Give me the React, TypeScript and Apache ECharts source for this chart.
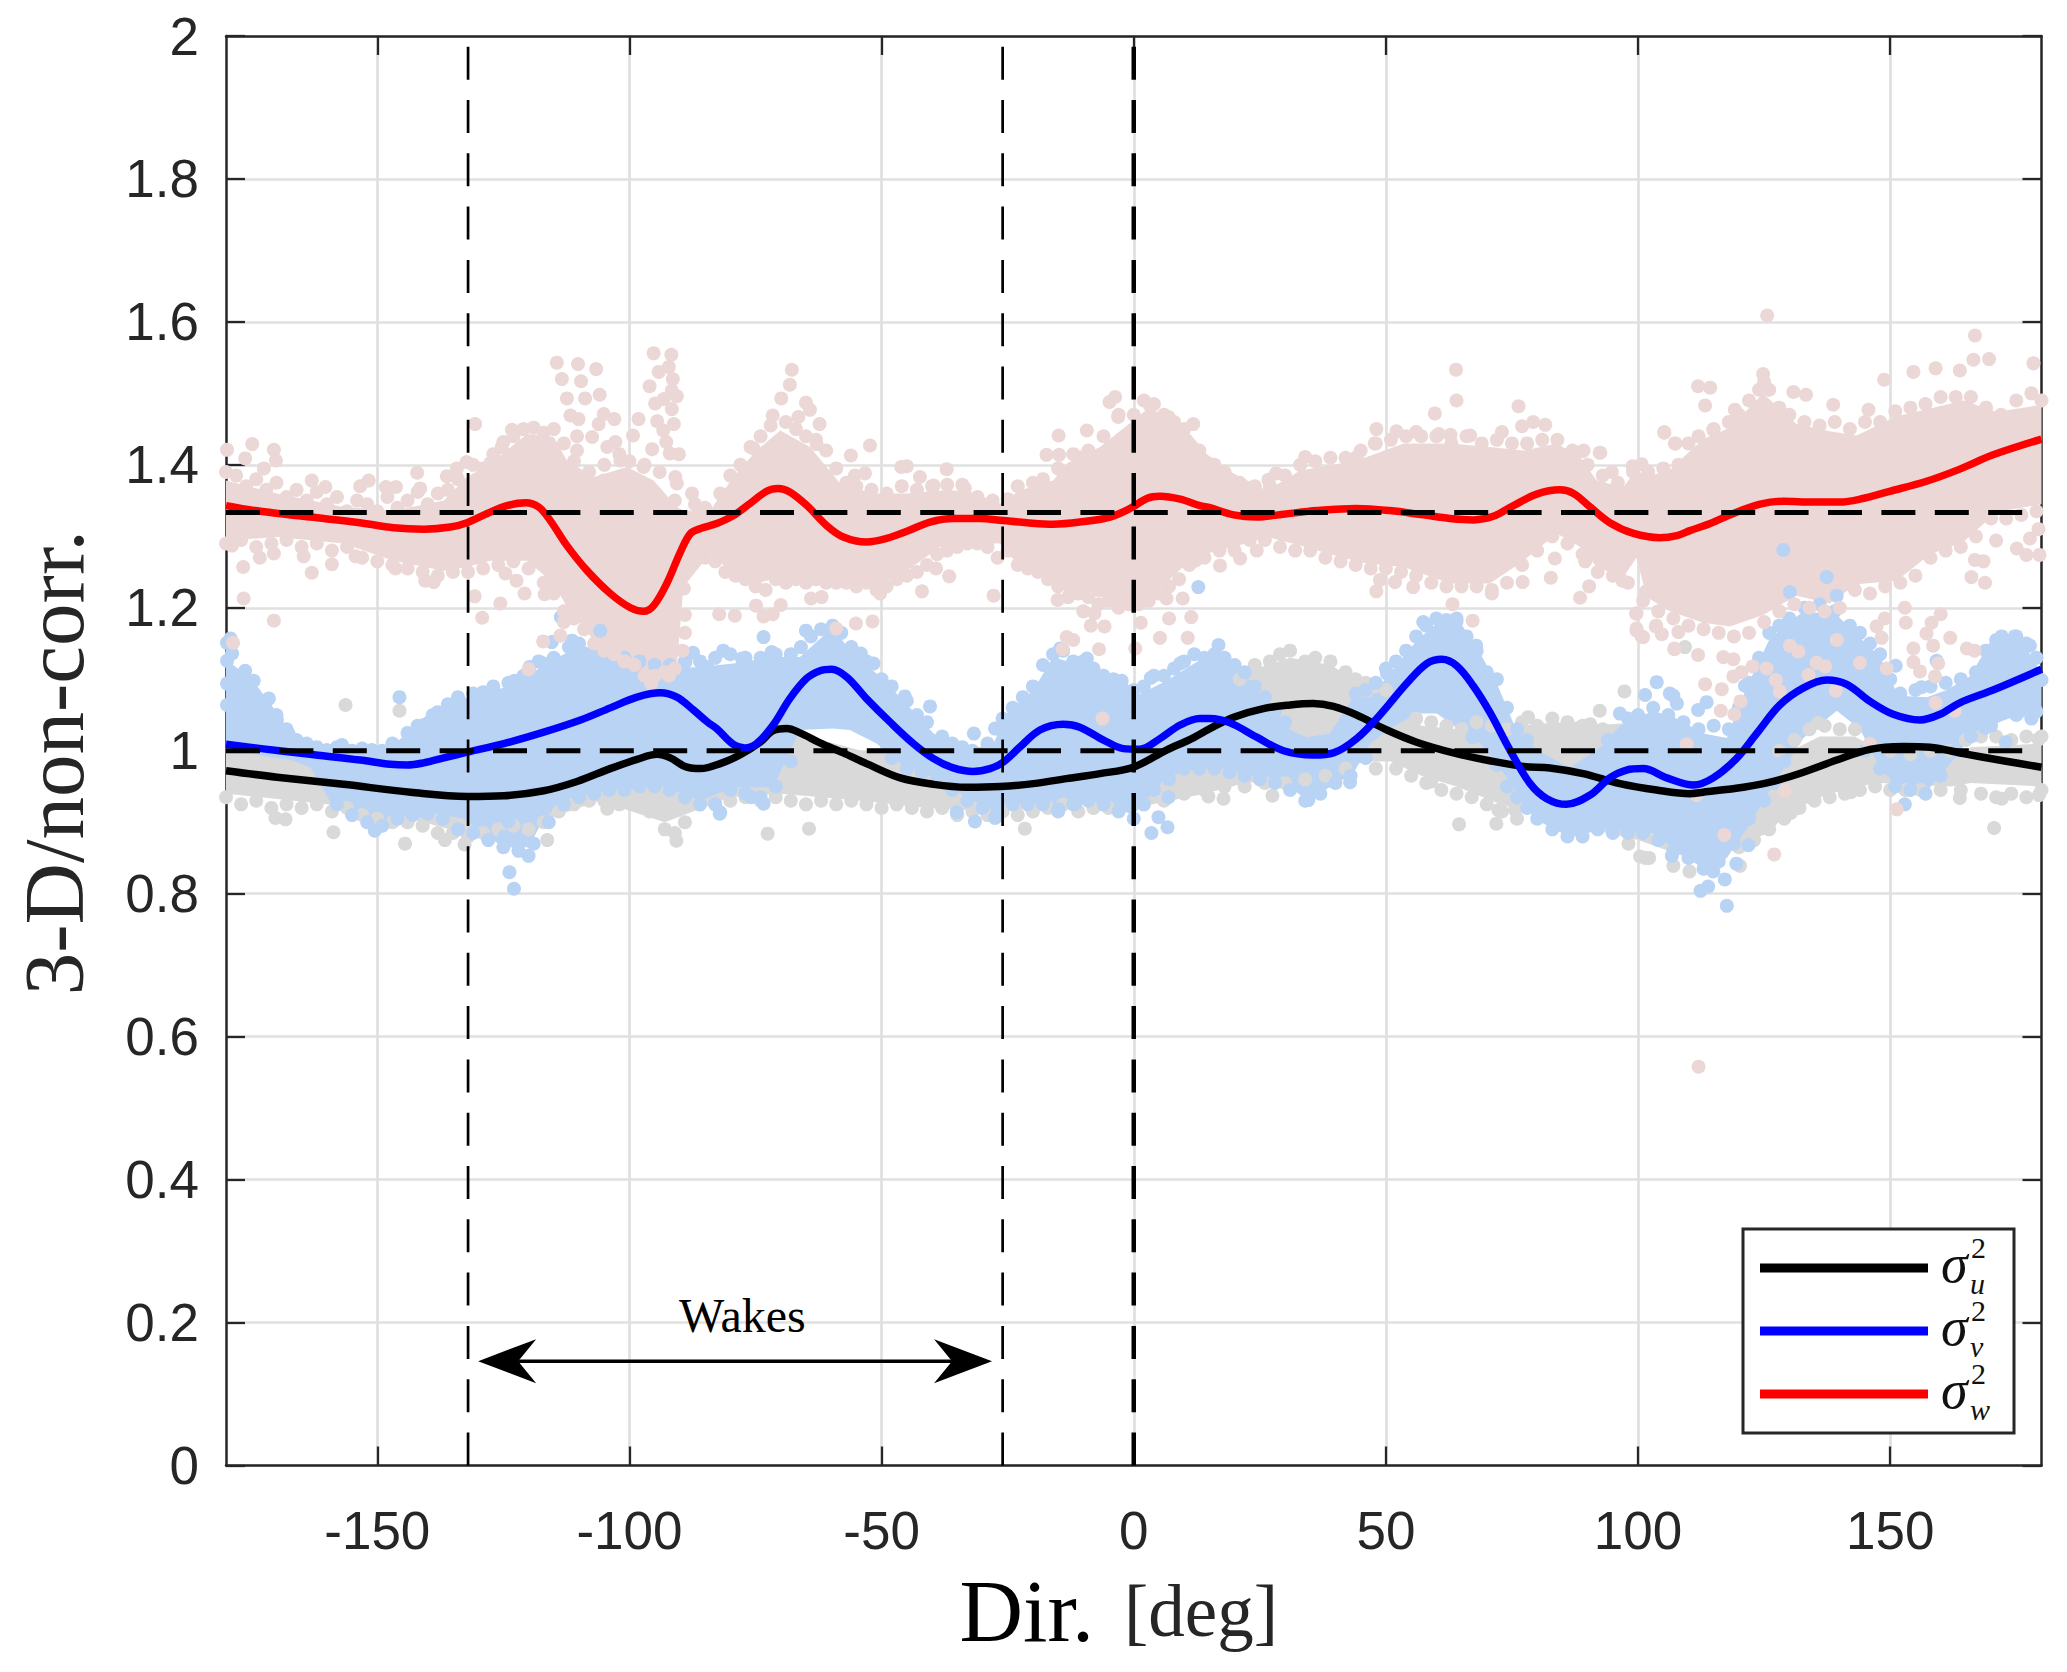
import React, { useEffect, useRef } from "react";
import * as echarts from "echarts";

const xTicks = [-150, -100, -50, 0, 50, 100, 150];
const wakeBounds = [-132, -26];
const refLevels = [1, 1.3333];
const wakesArrow = [[-130, 0.146, -28.1]];
const wakesLabel = [-77.6, 0.2105];

const redCurve = [[-180,1.343],[-173.2,1.335],[-163.3,1.327],[-153.4,1.319],[-146.8,1.312],[-140.8,1.310],[-135.5,1.313],[-132.2,1.319],[-128.2,1.332],[-124.3,1.343],[-120.6,1.347],[-118,1.341],[-115.7,1.322],[-112.4,1.287],[-108.4,1.252],[-103.8,1.220],[-99.8,1.200],[-97.2,1.195],[-95.2,1.203],[-92.6,1.234],[-89.9,1.278],[-87.9,1.304],[-85.9,1.311],[-82.7,1.318],[-79.4,1.329],[-76.1,1.346],[-72.8,1.363],[-70.5,1.367],[-68.2,1.362],[-64.8,1.343],[-60.9,1.315],[-57.6,1.299],[-53,1.292],[-49,1.297],[-45,1.307],[-40.4,1.320],[-35.8,1.325],[-30.5,1.325],[-25.9,1.322],[-21.2,1.319],[-16,1.317],[-10.7,1.320],[-4.7,1.327],[-0.7,1.339],[2.6,1.353],[5.2,1.356],[9.2,1.352],[13.1,1.343],[15.1,1.340],[19.8,1.330],[24.4,1.327],[29.7,1.331],[36.3,1.336],[44.2,1.339],[50.8,1.336],[57.4,1.330],[62.7,1.325],[67.3,1.323],[71.3,1.328],[75.3,1.343],[79.9,1.359],[84.5,1.365],[87.2,1.360],[90.5,1.341],[94.4,1.319],[99.1,1.304],[104.3,1.298],[107.7,1.301],[110.3,1.308],[114.3,1.318],[118.9,1.332],[124.2,1.345],[128.8,1.349],[134.7,1.348],[140,1.348],[144,1.352],[149.9,1.363],[157.2,1.377],[163.8,1.394],[170.4,1.414],[180,1.436]];

const blueCurve = [[-180,1.009],[-173,1.003],[-163.3,0.995],[-153.4,0.987],[-147.4,0.981],[-144.1,0.980],[-140.8,0.983],[-136.8,0.990],[-132.2,0.998],[-124.9,1.010],[-117,1.026],[-109.7,1.043],[-103.8,1.060],[-98.5,1.075],[-93.9,1.081],[-90.6,1.075],[-87.3,1.057],[-84.5,1.040],[-82.7,1.031],[-79.4,1.009],[-77.1,1.004],[-74.8,1.010],[-71.5,1.036],[-68.2,1.073],[-64.9,1.101],[-62.2,1.112],[-59.9,1.114],[-56.9,1.103],[-53,1.073],[-48.3,1.040],[-43.7,1.010],[-39.7,0.989],[-35.8,0.976],[-31.8,0.971],[-28.5,0.975],[-25.9,0.984],[-22.6,1.005],[-18.6,1.029],[-14,1.037],[-10.7,1.033],[-6,1.015],[-2.1,1.003],[1.2,1.002],[5.2,1.017],[9.2,1.036],[13.1,1.045],[15.1,1.045],[19.1,1.039],[24.4,1.019],[29.7,1.000],[35.6,0.994],[39.6,0.997],[44.2,1.017],[48.8,1.050],[54.1,1.094],[58.1,1.122],[61.1,1.128],[64,1.119],[67.3,1.091],[70.6,1.054],[74.6,1.001],[78.6,0.954],[81.9,0.933],[85.8,0.925],[90.5,0.938],[94.4,0.962],[97.7,0.973],[101,0.975],[105.7,0.962],[111,0.952],[114.9,0.962],[119.5,0.989],[123.5,1.024],[128.1,1.064],[132.8,1.088],[137.4,1.099],[141.4,1.093],[146,1.069],[150.6,1.051],[155.9,1.043],[159.9,1.051],[163.8,1.067],[170.4,1.085],[180,1.114]];

const blackCurve = [[-180,0.972],[-169.9,0.963],[-156.7,0.953],[-143.4,0.942],[-132.2,0.936],[-124.9,0.937],[-117,0.944],[-110.4,0.957],[-103.8,0.975],[-98.5,0.988],[-94.5,0.995],[-91.9,0.990],[-88.6,0.977],[-85.9,0.975],[-82,0.982],[-78.1,0.994],[-74.1,1.012],[-71.5,1.028],[-68.8,1.031],[-66.2,1.025],[-62.2,1.011],[-57.6,0.997],[-53,0.982],[-46.3,0.962],[-39.7,0.953],[-33.1,0.949],[-26.5,0.950],[-19.9,0.954],[-13.3,0.961],[-6.7,0.968],[-0.1,0.977],[6.5,1.001],[11.2,1.016],[15.1,1.031],[19.8,1.047],[25.7,1.059],[31,1.064],[35.6,1.066],[39.6,1.062],[44.2,1.050],[50.2,1.029],[56.1,1.012],[63.4,0.997],[70.6,0.986],[77.3,0.978],[82.5,0.976],[89.1,0.968],[96.4,0.954],[103.7,0.945],[110.3,0.940],[112.9,0.942],[120.9,0.949],[126.2,0.956],[132.8,0.970],[139.4,0.987],[146,1.002],[152.6,1.006],[157.9,1.005],[164.5,0.996],[172.4,0.986],[180,0.977]];

// cloud extents: [direction, upper, lower]
const pinkBand = [[-180,1.378,1.294],[-169.9,1.360,1.299],[-156.7,1.341,1.290],[-146.8,1.336,1.266],[-136.8,1.350,1.252],[-132.2,1.383,1.257],[-127.6,1.402,1.266],[-120.3,1.443,1.266],[-115,1.439,1.234],[-112.4,1.406,1.201],[-107,1.383,1.154],[-100.5,1.397,1.122],[-95.2,1.378,1.108],[-90.6,1.341,1.117],[-89.3,1.336,1.229],[-84,1.336,1.276],[-79.4,1.383,1.248],[-74.8,1.420,1.234],[-70.1,1.448,1.243],[-64.2,1.425,1.243],[-58.2,1.374,1.238],[-51.6,1.360,1.229],[-45,1.360,1.252],[-38.4,1.364,1.285],[-33.1,1.364,1.290],[-26.5,1.346,1.290],[-22.6,1.364,1.257],[-16,1.378,1.243],[-13.3,1.402,1.220],[-6.7,1.425,1.215],[-0.1,1.462,1.210],[3.2,1.481,1.215],[11.2,1.443,1.266],[14.5,1.415,1.276],[19.8,1.388,1.285],[26.4,1.364,1.299],[33,1.392,1.287],[40.9,1.402,1.271],[46.2,1.411,1.262],[53.5,1.430,1.257],[62.7,1.430,1.234],[70.6,1.425,1.234],[77.3,1.420,1.266],[83.9,1.430,1.304],[88.5,1.411,1.285],[91.8,1.378,1.257],[97.1,1.369,1.243],[99.7,1.393,1.270],[101.7,1.383,1.215],[106.3,1.393,1.195],[112.9,1.436,1.179],[118.2,1.452,1.174],[124.8,1.500,1.190],[131.4,1.457,1.217],[138,1.447,1.206],[143.3,1.441,1.233],[151.3,1.468,1.238],[157.9,1.479,1.275],[164.5,1.490,1.292],[171.1,1.474,1.334],[180,1.484,1.345]];

const blueBand = [[-180,1.127,0.996],[-175.2,1.103,0.996],[-171.2,1.066,0.991],[-167.2,1.024,0.987],[-163.3,1.005,0.977],[-159,1.001,0.925],[-151,0.996,0.900],[-146,1.013,0.905],[-140,1.051,0.915],[-133,1.072,0.905],[-125,1.088,0.865],[-120,1.105,0.865],[-117,1.120,0.905],[-113,1.135,0.930],[-109,1.147,0.935],[-104,1.131,0.945],[-93,1.115,0.950],[-86,1.117,0.930],[-79.4,1.122,0.949],[-71.5,1.131,0.949],[-66.2,1.131,1.029],[-59.6,1.173,1.031],[-56.3,1.140,1.029],[-51,1.108,1.010],[-46.3,1.075,0.982],[-39.7,1.024,0.963],[-33.1,1.001,0.935],[-27.8,1.010,0.917],[-25.2,1.052,0.926],[-19.9,1.085,0.926],[-16,1.131,0.917],[-9.3,1.117,0.931],[-4,1.094,0.921],[-0.1,1.075,0.910],[6.5,1.098,0.963],[13.1,1.127,0.977],[17.8,1.127,0.975],[22.4,1.103,0.968],[27,1.066,0.959],[31,1.029,0.949],[34.3,1.019,0.931],[38.9,1.024,0.949],[43.5,1.075,0.968],[46.9,1.075,1.010],[50.8,1.108,1.031],[56.1,1.154,1.052],[60.1,1.178,1.052],[64.7,1.180,1.029],[68.7,1.136,1.010],[72,1.094,0.982],[75.3,1.038,0.949],[79.9,1.001,0.903],[86.5,0.976,0.879],[93.1,1.008,0.890],[96.4,1.035,0.888],[103,1.056,0.885],[107.6,1.045,0.860],[113,1.024,0.835],[117.6,1.018,0.850],[121.5,1.088,0.890],[126.2,1.158,0.945],[132.8,1.195,1.018],[139.4,1.190,1.056],[144,1.158,1.030],[148,1.131,0.976],[151.6,1.077,0.949],[157.3,1.075,0.944],[161.2,1.085,0.976],[165.8,1.104,1.018],[169.8,1.152,1.035],[175.7,1.158,1.051],[180,1.109,1.056]];

const grayBand = [[-180,1.0,0.94],[-160,0.99,0.925],[-146,0.98,0.91],[-133,0.97,0.885],[-120,0.97,0.895],[-106,0.98,0.93],[-93,1.02,0.90],[-80,1.02,0.935],[-70,1.03,0.94],[-54,1.0,0.93],[-41,1.0,0.92],[-28,0.98,0.915],[-12,1.0,0.925],[0,1.0,0.92],[14,1.02,0.94],[22,1.11,0.955],[31,1.13,0.96],[39,1.12,0.97],[46,1.09,0.985],[51,1.08,0.985],[57,1.035,0.965],[64,1.03,0.95],[71,1.03,0.93],[77,1.035,0.915],[84,1.04,0.90],[90.5,1.035,0.89],[100,1.04,0.875],[110,1.0,0.85],[120,0.98,0.87],[126,0.98,0.885],[129,0.995,0.91],[136,1.02,0.935],[143,1.02,0.95],[148,1.0,0.955],[162,0.99,0.95],[166,1.005,0.955],[180,1.01,0.95]];

const pinkOutliers = [[-174.8,1.429],[-179.8,1.421],[-170.5,1.421],[-170.1,1.406],[-176.2,1.409],[-172.5,1.395],[-142.1,1.389],[-151.7,1.378],[-153.4,1.370],[-148.3,1.369],[-146.3,1.369],[-163,1.378],[-160.3,1.369],[-141.5,1.367],[-136.2,1.384],[-132.3,1.404],[-134.2,1.395],[-130.6,1.457],[-123.3,1.449],[-125.3,1.425],[-127.6,1.402],[-114.4,1.543],[-110.2,1.541],[-106.6,1.534],[-113.4,1.520],[-109.6,1.517],[-112.4,1.493],[-108.8,1.493],[-105.9,1.498],[-111.7,1.469],[-110.1,1.464],[-105.1,1.471],[-103,1.464],[-106.1,1.457],[-110.4,1.440],[-107.4,1.439],[-102.8,1.432],[-104.4,1.425],[-110.4,1.420],[-95.5,1.422],[-98.2,1.464],[-99.3,1.441],[-95.2,1.556],[-91.7,1.554],[-92.2,1.537],[-94.2,1.530],[-91.4,1.520],[-96,1.510],[-91.6,1.504],[-90.6,1.496],[-93.2,1.492],[-94.9,1.486],[-91.6,1.478],[-94.5,1.461],[-91.2,1.457],[-93.3,1.448],[-92.7,1.432],[-92,1.416],[-90.2,1.415],[-90.9,1.383],[-90.6,1.374],[-87.6,1.360],[-101.8,1.406],[-97.2,1.397],[-102.8,1.364],[-105.1,1.378],[-176.6,1.257],[-176.5,1.213],[-170.5,1.182],[-163,1.249],[-173.3,1.270],[-170.5,1.276],[-159,1.261],[-164.6,1.272],[-178.8,1.287],[-154.3,1.272],[-146.4,1.255],[-140.5,1.238],[-138.8,1.236],[-130.7,1.216],[-129.2,1.186],[-125.6,1.206],[-124.6,1.248],[-122.4,1.238],[-120.8,1.220],[-116.8,1.219],[-115.7,1.231],[-117.1,1.153],[-113.7,1.161],[-113,1.180],[-120,1.114],[-95.7,1.094],[-92.2,1.105],[-89.2,1.227],[-88.6,1.257],[-178.6,1.151],
[-67.8,1.533],[-68.2,1.512],[-69.9,1.493],[-65,1.487],[-64.2,1.477],[-71.6,1.469],[-66.5,1.467],[-62.3,1.457],[-75.4,1.423],[-62.9,1.429],[-52.3,1.427],[-56.1,1.413],[-46.1,1.397],[-45,1.398],[-37.1,1.394],[-42.4,1.383],[-55.3,1.385],[-53.3,1.388],[-39.7,1.371],[-33.5,1.367],[-14.9,1.441],[-17.3,1.414],[-14.8,1.414],[-11,1.411],[-9.3,1.448],[-3.7,1.495],[-4.8,1.488],[-3.1,1.467],[3.2,1.483],[6.9,1.467],[11.8,1.457],[-82.2,1.191],[-79.1,1.189],[-74.9,1.203],[-73.4,1.188],[-71.6,1.191],[-70,1.204],[-64,1.213],[-61.9,1.215],[-55.1,1.178],[-51.8,1.181],[-59,1.171],[-50.3,1.220],[-42,1.223],[-36.6,1.244],[-39.2,1.255],[-27.8,1.217],[-15.1,1.211],[-10,1.195],[-7.8,1.192],[-8.5,1.175],[-5.8,1.174],[-13.3,1.159],[-12,1.155],[-14.1,1.142],[-6.9,1.142],[-6.2,1.045],[1.4,1.179],[7,1.185],[11.4,1.187],[5.2,1.158],[10.7,1.158],[0.3,1.143],[9.7,1.213],[6.5,1.213],[-2.4,1.208],
[63.9,1.533],[64,1.490],[59.7,1.472],[76.3,1.482],[48.1,1.450],[52.1,1.447],[56,1.446],[60.5,1.443],[62.8,1.442],[66.7,1.441],[73,1.446],[77,1.454],[79.2,1.460],[81.6,1.456],[34,1.411],[28.2,1.388],[26.7,1.379],[44.2,1.411],[47.8,1.430],[92.5,1.417],[89.2,1.420],[105.2,1.445],[107.4,1.430],[99.1,1.397],[94.8,1.390],[24.4,1.280],[21.1,1.269],[17.1,1.259],[12.2,1.266],[48.1,1.223],[48.8,1.239],[51.8,1.236],[55.4,1.229],[63.2,1.205],[67.2,1.182],[71,1.220],[77.1,1.236],[82.7,1.242],[83.5,1.269],[88.5,1.214],[90.3,1.230],[96.9,1.238],[99.7,1.192],[99.7,1.168],[103.6,1.175],[101,1.159],[104.7,1.163],[107.2,1.142],[108,1.166],
[166.8,1.581],[166.5,1.547],[169.6,1.548],[178.4,1.542],[159,1.535],[163.8,1.532],[154.6,1.530],[148.8,1.519],[124.8,1.527],[125,1.516],[111.9,1.510],[114.3,1.508],[130.8,1.502],[133.3,1.498],[113.3,1.483],[138.7,1.484],[119.2,1.477],[145.7,1.477],[105.2,1.446],[107.3,1.430],[114.9,1.449],[92.4,1.417],[89,1.419],[98.9,1.398],[100.7,1.401],[89.5,1.265],[101.6,1.223],[99.6,1.192],[99.7,1.171],[100.7,1.160],[103.5,1.174],[107.2,1.143],[111.9,1.134],[116.9,1.131],[118.9,1.128],[122.7,1.118],[118.9,1.104],[120.5,1.110],[113.3,1.093],[116.6,1.086],[116.4,1.056],[119.1,1.051],[120.3,1.069],[125.5,1.115],[127.3,1.099],[128.1,1.083],[130.1,1.147],[131.8,1.139],[139.4,1.155],[135.4,1.123],[137.1,1.118],[133.8,1.106],[144,1.123],[149.3,1.115],[139.2,1.084],[154.6,1.143],[154.6,1.124],[155.9,1.111],[157.2,1.164],[158.5,1.147],[159.5,1.122],[158.9,1.104],[159,1.067],[161.9,1.158],[165.2,1.143],[166.7,1.140],[160,1.191],[158.2,1.179],[153.1,1.179],[152.9,1.200],[148.9,1.185],[147.3,1.174],[148.3,1.158],[168.8,1.235],[166.1,1.243],[166.8,1.267],[168.5,1.265],[171,1.294],[175.1,1.283],[177,1.274],[179.6,1.274],[177.7,1.297],[179.4,1.310],[109.6,1.009],[117.1,0.882],[127,0.855],[129.1,0.944],[151.3,0.918],[162.8,1.056],[146,1.008],[111.6,0.938],[125.6,1.609],[112,0.558]];

const pinkTopEdge = [[-180,1.39],[-178,1.385],[-176,1.37],[-174,1.38],[-172,1.365],[-170,1.375],[-168,1.355],[-166,1.365],[-164,1.35],[-162,1.362],[-160,1.345],[-158,1.355],[-156,1.335],[-154,1.35],[-152,1.345],[-150,1.335],[-148,1.355],[-146,1.34],[-144,1.35],[-142,1.362],[-140,1.345],[-138,1.36],[-136,1.365],[-134,1.38],[-131,1.40],[-129,1.395],[-127,1.415],[-125,1.432],[-123,1.44],[-121,1.45],[-119,1.452],[-117,1.445],[-115,1.45],[-113,1.43],[-111,1.405],[-108,1.39],[-105,1.40],[-102,1.415],[-100,1.405],[-97,1.40],[-94,1.39],[-91,1.35],[-87,1.345],[-85,1.34],[-82,1.36],[-80,1.385],[-78,1.40],[-76,1.425],[-74,1.44],[-72,1.455],[-69,1.46],[-67,1.45],[-65,1.44],[-63,1.435],[-61,1.42],[-59,1.395],[-57,1.375],[-55,1.37],[-52,1.365],[-49,1.36],[-46,1.37],[-43,1.365],[-40,1.37],[-37,1.372],[-34,1.372],[-31,1.355],[-28,1.35],[-25,1.352],[-23,1.37],[-20,1.375],[-18,1.38],[-15,1.395],[-12,1.415],[-9,1.42],[-6,1.44],[-3,1.47],[0,1.47],[2,1.49],[4,1.485],[6,1.47],[8,1.46],[10,1.45],[13,1.42],[16,1.40],[18,1.39],[21,1.375],[24,1.37],[27,1.37],[30,1.385],[33,1.40],[36,1.405],[39,1.41],[42,1.41],[45,1.42],[48,1.43],[51,1.435],[54,1.44],[57,1.44],[60,1.44],[63,1.43],[66,1.44],[69,1.43],[72,1.435],[75,1.43],[78,1.43],[81,1.435],[84,1.435],[87,1.42],[90,1.40],[93,1.385],[96,1.375],[99,1.39],[102,1.39],[105,1.395],[108,1.40],[110,1.43],[112,1.44],[115,1.45],[118,1.46],[120,1.47],[122,1.49],[124,1.505],[126,1.505],[128,1.48],[130,1.47],[133,1.46],[136,1.455],[139,1.46],[142,1.45],[145,1.46],[148,1.46],[151,1.475],[154,1.48],[157,1.485],[160,1.495],[163,1.495],[166,1.495],[169,1.48],[172,1.47],[175,1.49],[178,1.50],[180,1.49]];

const pinkBottomEdge = [[-180,1.29],[-177,1.295],[-174,1.285],[-171,1.29],[-168,1.295],[-165,1.285],[-162,1.29],[-159,1.28],[-156,1.285],[-153,1.27],[-150,1.265],[-147,1.26],[-144,1.255],[-141,1.25],[-138,1.245],[-135,1.25],[-132,1.25],[-129,1.255],[-126,1.26],[-123,1.265],[-120,1.255],[-117,1.235],[-115,1.22],[-113,1.195],[-111,1.185],[-109,1.17],[-107,1.15],[-105,1.14],[-103,1.135],[-101,1.125],[-99,1.12],[-97,1.105],[-95,1.105],[-93,1.11],[-91,1.115],[-89.5,1.14],[-89,1.165],[-89,1.19],[-87,1.265],[-85,1.27],[-83,1.265],[-81,1.25],[-79,1.245],[-77,1.24],[-75,1.23],[-73,1.225],[-71,1.24],[-69,1.235],[-67,1.24],[-65,1.235],[-63,1.24],[-61,1.235],[-59,1.235],[-57,1.235],[-55,1.23],[-53,1.235],[-51,1.225],[-49,1.23],[-47,1.24],[-45,1.245],[-43,1.25],[-41,1.26],[-39,1.275],[-37,1.28],[-35,1.285],[-33,1.29],[-31,1.29],[-29,1.285],[-27,1.27],[-25,1.28],[-23,1.26],[-21,1.255],[-19,1.25],[-17,1.24],[-15,1.23],[-13,1.215],[-11,1.22],[-9,1.215],[-7,1.205],[-5,1.21],[-3,1.20],[-1,1.205],[1,1.205],[3,1.21],[5,1.22],[7,1.23],[9,1.24],[11,1.26],[14,1.27],[17,1.28],[20,1.28],[23,1.295],[26,1.295],[29,1.285],[32,1.28],[35,1.28],[38,1.27],[41,1.265],[44,1.26],[47,1.255],[50,1.255],[53,1.25],[56,1.245],[59,1.235],[62,1.23],[65,1.23],[68,1.23],[71,1.225],[74,1.235],[77,1.26],[80,1.28],[83,1.30],[86,1.29],[89,1.275],[92,1.25],[95,1.245],[98,1.235],[101,1.21],[104,1.195],[107,1.185],[110,1.175],[113,1.17],[116,1.165],[119,1.16],[122,1.165],[125,1.18],[128,1.195],[131,1.205],[134,1.20],[137,1.195],[140,1.20],[143,1.225],[146,1.22],[149,1.23],[152,1.235],[155,1.245],[158,1.27],[161,1.28],[164,1.285],[167,1.30],[170,1.325],[173,1.325],[176,1.33],[179,1.335]];

const blueOutliers = [[-179.1,1.157],[-179.8,1.151],[-178.8,1.136],[-179.8,1.126],[-179.8,1.094],[-179.8,1.064],[-178.5,1.054],[-176.2,1.112],[-174.5,1.098],[-176.8,1.075],[-176.5,1.047],[-174.8,1.029],[-171.5,1.073],[-173.2,1.047],[-169.9,1.043],[-167.6,1.024],[-178.5,1.017],[-165.8,1.011],[-160,1.001],[-157,1.008],[-151.1,1.001],[-146.3,1.006],[-145.6,1.075],[-142.5,1.022],[-140.8,1.036],[-138,1.054],[-133.2,1.066],[-127.7,1.075],[-122.8,1.098],[-119.8,1.117],[-117,1.122],[-115.4,1.152],[-111.4,1.154],[-113.6,1.187],[-109.7,1.119],[-104.4,1.129],[-87.4,1.137],[-88.9,1.124],[-84.6,1.117],[-105.8,1.168],
[-73.4,1.159],[-65,1.168],[-59.7,1.175],[-81.4,1.140],[-77.7,1.129],[-71.8,1.138],[-54.1,1.136],[-51.6,1.122],[-45.4,1.076],[-40.4,1.062],[-31.7,1.024],[-27.5,1.031],[-14.6,1.143],[-9.3,1.129],[-2.4,1.098],[3.4,1.102],[12.8,1.229],[9.2,1.122],[-82,0.914],[-73.4,0.926],[-75.8,0.935],[-35.1,0.914],[-22,0.935],[-14.9,0.918],[-11.6,0.926],[-12.3,0.945],[4.9,0.907],[6.9,0.935],
[-122.9,0.807],[-123.8,0.830],[-120,0.853],[-124,0.901],[-124.8,0.88],[-141.4,0.917],[-150.5,0.888],[-82.1,0.912],[-31.5,0.901],[-27.5,0.906],[-15,0.917],[3.5,0.885],[6.7,0.893],
[16.8,1.148],[57.4,1.180],[64,1.181],[67.9,1.147],[50.2,1.108],[103.7,1.096],[101.4,1.078],[96.4,1.052],[106.3,1.080],[107.7,1.066],[42.9,0.956],[34.6,0.931],[67.2,1.019],
[107,1.077],[111.9,1.057],[113.6,1.068],[121.2,1.091],[117.6,0.783],[112.4,0.804],[119.5,0.842],[121.9,0.868],[106.7,0.853],[152.9,0.925],[151.1,1.119],[156.2,1.089],[159.2,1.126],[172.1,1.160],[174.7,1.160],[177.7,1.147],[180,1.099],[178,1.045],[172.8,1.069],[175.7,1.055],[168.8,1.032],[172.9,1.012],[130.1,1.222],[139.4,1.217],[137.4,1.243],[128.8,1.281],[114.9,0.831],[117.2,0.820],[113.9,0.810]];

const blueTopEdge = [[-170,1.05],[-168,1.03],[-166,1.015],[-164,1.01],[-162,1.005],[-158,1.005],[-155,1.0],[-153,1.003],[-149,1.0],[-147,1.01],[-144,1.025],[-142,1.035],[-139,1.05],[-136,1.065],[-134,1.075],[-131,1.08],[-129,1.082],[-127,1.09],[-124,1.095],[-121,1.105],[-118,1.125],[-115,1.13],[-112,1.145],[-110,1.15],[-107,1.14],[-104,1.135],[-101,1.13],[-98,1.125],[-95,1.12],[-92,1.12],[-89,1.125],[-86,1.125],[-83,1.13],[-80,1.135],[-77,1.13],[-74,1.13],[-71,1.135],[-68,1.135],[-66,1.145],[-64,1.16],[-62,1.17],[-60,1.17],[-58,1.165],[-56,1.145],[-53,1.125],[-50,1.10],[-48,1.09],[-45,1.07],[-43,1.05],[-41,1.04],[-38,1.02],[-36,1.01],[-34,1.005],[-32,1.0],[-29,1.01],[-26,1.045],[-24,1.06],[-22,1.075],[-20,1.09],[-18,1.12],[-16,1.135],[-14,1.14],[-12,1.125],[-10,1.125],[-8,1.115],[-6,1.105],[-4,1.10],[-2,1.085],[0,1.085],[2,1.09],[4,1.105],[6,1.105],[8,1.115],[10,1.125],[12,1.135],[14,1.13],[16,1.135],[18,1.13],[20,1.12],[22,1.11],[24,1.09],[26,1.075],[28,1.055],[30,1.04],[44,1.08],[46,1.085],[48,1.095],[50,1.115],[52,1.125],[54,1.14],[56,1.16],[58,1.175],[60,1.185],[62,1.183],[64,1.185],[66,1.16],[68,1.14],[70,1.11],[72,1.10],[74,1.06],[76,1.03],[78,1.015],[94,1.015],[98,1.045],[100,1.05],[103,1.06],[106,1.05],[109,1.04],[112,1.03],[115,1.035],[118,1.03],[120,1.06],[122,1.095],[124,1.13],[126,1.165],[128,1.175],[130,1.185],[133,1.20],[136,1.205],[139,1.195],[142,1.175],[144,1.165],[146,1.15],[148,1.135],[150,1.10],[152,1.08],[155,1.085],[158,1.09],[161,1.095],[164,1.10],[167,1.11],[169,1.14],[171,1.155],[173,1.15],[175,1.16],[177,1.15],[179,1.13]];

const blueBottomEdge = [[-158,0.925],[-155,0.91],[-152,0.90],[-149,0.895],[-146,0.905],[-143,0.91],[-140,0.912],[-137,0.905],[-134,0.89],[-131,0.885],[-128,0.875],[-125,0.865],[-122,0.86],[-119,0.87],[-116,0.90],[-113,0.925],[-110,0.935],[-107,0.94],[-104,0.945],[-101,0.945],[-98,0.95],[-95,0.95],[-92,0.945],[-89,0.935],[-86,0.925],[-83,0.925],[-80,0.945],[-77,0.94],[-74,0.935],[-71,0.95],[-68,0.985],[-48,0.99],[-45,0.975],[-42,0.97],[-39,0.96],[-36,0.945],[-33,0.93],[-30,0.92],[-27,0.915],[-24,0.925],[-21,0.925],[-18,0.925],[-15,0.915],[-12,0.925],[-9,0.93],[-6,0.925],[-3,0.915],[0,0.905],[2,0.925],[4,0.945],[7,0.96],[10,0.975],[13,0.975],[16,0.975],[19,0.97],[22,0.965],[25,0.96],[28,0.955],[31,0.945],[34,0.93],[37,0.94],[40,0.955],[43,0.965],[46,0.99],[72,0.98],[74,0.95],[76,0.935],[78,0.92],[80,0.905],[83,0.89],[86,0.88],[89,0.88],[92,0.89],[95,0.885],[98,0.885],[101,0.885],[104,0.875],[107,0.86],[110,0.85],[113,0.835],[116,0.845],[119,0.87],[122,0.905],[125,0.93],[127,0.955],[129,0.985],[145,1.0],[148,0.975],[151,0.95],[154,0.945],[157,0.94],[160,0.965],[163,1.0],[166,1.02],[170,1.035],[175,1.05],[179,1.055]];

const grayOutliers = [[-156.3,1.064],[-145.6,1.056],[-104.4,0.919],[-170.2,0.906],[-168.2,0.904],[-158.7,0.886],[-144.5,0.870],[-136.6,0.875],[-132.7,0.869],[-116.3,0.875],[-90.7,0.874],[-72.6,0.884],[-64.4,0.891],[-21.6,0.891],[97.3,1.083],[92.4,1.056],[109.3,1.145],[98.1,0.870],[100.4,0.852],[102.2,0.850],[107,0.839],[110.2,0.831],[120.2,0.839],[130.3,0.913],[142.2,0.942],[163.8,0.934],[170.6,0.892],[179.5,0.938],[172.1,0.933],[179.4,1.016],[135.7,1.039],[90.5,1.037],[14.8,0.936],[17.8,0.933],[27.5,0.937],[59,0.957],[64.5,0.897],[71.9,0.898],[101.5,0.850],[78.2,1.047],[87.8,1.031],[72.3,0.917],[75.6,0.917]];

const grayTopEdge = [[21,1.10],[24,1.12],[27,1.125],[29,1.135],[31,1.14],[34,1.125],[36,1.13],[39,1.125],[42,1.11],[44,1.10],[46,1.095],[48,1.09],[50,1.085],[56,1.045],[59,1.04],[62,1.035],[65,1.03],[68,1.04],[71,1.035],[74,1.03],[77,1.04],[80,1.035],[83,1.045],[86,1.04],[89,1.035],[91,1.03],[93,1.03],[128,1.0],[131,1.015],[134,1.03],[137,1.035],[140,1.03],[143,1.03],[146,1.01],[150,1.0],[154,0.995],[158,1.0],[162,1.0],[165,1.015],[168,1.02],[171,1.02],[174,1.015],[177,1.02],[180,1.02]];

const grayBottomEdge = [[-180,0.935],[-177,0.925],[-174,0.93],[-171,0.92],[-168,0.925],[-165,0.92],[-162,0.925],[-159,0.915],[-156,0.92],[-153,0.91],[-150,0.905],[-147,0.90],[-144,0.90],[-141,0.895],[-138,0.885],[-135,0.885],[-132,0.88],[-129,0.885],[-126,0.89],[-123,0.895],[-120,0.89],[-117,0.90],[-114,0.915],[-111,0.925],[-108,0.93],[-105,0.93],[-102,0.925],[-99,0.925],[-96,0.915],[-93,0.89],[-91,0.885],[-89,0.90],[-86,0.925],[-83,0.925],[-80,0.93],[-77,0.935],[-74,0.93],[-71,0.935],[-68,0.93],[-65,0.925],[-62,0.93],[-59,0.925],[-56,0.93],[-53,0.925],[-50,0.92],[-47,0.925],[-44,0.92],[-41,0.915],[-38,0.92],[-35,0.91],[-32,0.915],[-29,0.91],[-26,0.915],[-23,0.91],[-20,0.915],[-17,0.92],[-14,0.925],[-11,0.915],[-8,0.92],[-5,0.92],[2,0.925],[6,0.93],[10,0.94],[14,0.945],[18,0.95],[22,0.95],[26,0.955],[30,0.955],[34,0.96],[38,0.965],[42,0.975],[48,0.975],[52,0.975],[55,0.965],[58,0.955],[61,0.945],[64,0.94],[67,0.935],[70,0.925],[73,0.915],[76,0.905],[120,0.865],[123,0.875],[126,0.89],[129,0.905],[132,0.92],[135,0.93],[138,0.935],[141,0.94],[144,0.945],[147,0.95],[150,0.945],[153,0.945],[156,0.945],[160,0.945],[164,0.945],[168,0.94],[171,0.935],[174,0.94],[177,0.935],[180,0.945]];

const legendItems = [
  { sub: "u", color: "#000000" },
  { sub: "v", color: "#0000ff" },
  { sub: "w", color: "#ff0000" },
];

const PINK = "#ecd7d7";
const BLUE = "#b9d3f4";
const GRAY = "#d9d9d9";
const INK = "#262626";
const SANS = "'Liberation Sans', Arial, sans-serif";
const SERIF = "'Liberation Serif', 'Times New Roman', serif";
const DOT = 14;

function band(name: string, rows: number[][], fill: string) {
  return {
    type: "custom",
    name,
    silent: true,
    data: rows,
    encode: { x: 0, y: [1, 2] },
    renderItem: (p: any, api: any) => {
      if (p.dataIndex !== 0) return null;
      const upper = rows.map((r) => api.coord([r[0], r[1]]));
      const lower = rows.slice().reverse().map((r) => api.coord([r[0], r[2]]));
      return { type: "polygon", shape: { points: [...upper, ...lower] }, style: { fill } };
    },
  };
}
const dots = (name: string, data: number[][], color: string) => ({
  type: "scatter", name, data, symbolSize: DOT, silent: true, itemStyle: { color, opacity: 1 }, clip: false,
});
const curve = (name: string, data: number[][], color: string) => ({
  type: "line", name, data, smooth: 0.35, showSymbol: false, symbol: "none", silent: true,
  lineStyle: { color, width: 7.5, cap: "butt", join: "round" },
});
const hRef = (v: number) => ({
  type: "line", name: "ref " + v, data: [[-180, v], [180, v]], showSymbol: false, symbol: "none", silent: true,
  lineStyle: { color: "#000", width: 5, type: [34, 19.4], cap: "butt" },
});
const vRef = (x: number, width: number) => ({
  type: "line", name: "dir " + x, data: [[x, 0], [x, 2]], showSymbol: false, symbol: "none", silent: true,
  lineStyle: { color: "#000", width, type: [33, 20.3], cap: "butt" },
});

function buildOption() {
  const xBase = {
    type: "value", min: -180, max: 180, gridIndex: 0,
    axisLine: { show: true, onZero: false, lineStyle: { color: INK, width: 2.5 } },
    axisTick: { show: true, inside: true, length: 19, customValues: xTicks, lineStyle: { color: INK, width: 2.3 } },
  };
  const yBase = {
    type: "value", min: 0, max: 2, interval: 0.2, gridIndex: 0,
    axisLine: { show: true, onZero: false, lineStyle: { color: INK, width: 2.5 } },
    axisTick: { show: true, inside: true, length: 19, lineStyle: { color: INK, width: 2.3 } },
  };
  const grid = { color: "#e0e0e0", width: 2.7 };
  const legendX = 1743, legendY = 1229;
  const graphic: any[] = [
    { type: "rect", z: 50, shape: { x: legendX, y: legendY, width: 271, height: 204 }, style: { fill: "#fff", stroke: INK, lineWidth: 3 } },
  ];
  legendItems.forEach((it, i) => {
    const dy = i * 63;
    graphic.push(
      { type: "rect", z: 51, shape: { x: 1760, y: 1263.5 + dy, width: 168, height: 9 }, style: { fill: it.color } },
      { type: "text", z: 51, x: 1941, y: 1264 + dy, style: { text: "σ", fill: "#111", font: `italic 54px ${SERIF}`, verticalAlign: "middle" } },
      { type: "text", z: 51, x: 1971, y: 1247 + dy, style: { text: "2", fill: "#111", font: `30px ${SERIF}`, verticalAlign: "middle" } },
      { type: "text", z: 51, x: 1970, y: 1283 + dy, style: { text: it.sub, fill: "#111", font: `italic 30px ${SERIF}`, verticalAlign: "middle" } },
    );
  });
  return {
    animation: false,
    backgroundColor: "#fff",
    grid: { left: 226, right: 25.5, top: 36, bottom: 206.5, containLabel: false, outerBoundsMode: "none" },
    xAxis: [
      {
        ...xBase, position: "bottom",
        name: "{a|Dir.}         {b|[deg]}", nameLocation: "middle", nameGap: 102,
        nameTextStyle: { padding: [0, 30, 0, 0], rich: {
          a: { fontFamily: SERIF, fontSize: 88, color: "#000" },
          b: { fontFamily: SERIF, fontSize: 73, color: INK },
        } },
        axisLabel: { show: true, customValues: xTicks, margin: 38, color: INK, fontFamily: SANS, fontSize: 53 },
        splitLine: { show: true, lineStyle: grid },
      },
      { ...xBase, position: "top", axisLabel: { show: false }, splitLine: { show: false } },
    ],
    yAxis: [
      {
        ...yBase, position: "left",
        name: "3-D/non-corr.", nameLocation: "middle", nameRotate: 90, nameGap: 130,
        nameTextStyle: { fontFamily: SERIF, fontSize: 85, color: INK, padding: [0, 24, 0, 0] },
        axisLabel: { show: true, margin: 27, padding: [10, 0, 0, 0], color: INK, fontFamily: SANS, fontSize: 53 },
        splitLine: { show: true, lineStyle: grid },
      },
      { ...yBase, position: "right", axisLabel: { show: false }, splitLine: { show: false } },
    ],
    series: [
      band("gray cloud", grayBand, GRAY),
      dots("gray points", [...grayOutliers, ...grayTopEdge, ...grayBottomEdge], GRAY),
      band("blue cloud", blueBand, BLUE),
      dots("blue points", [...blueOutliers, ...blueTopEdge, ...blueBottomEdge], BLUE),
      band("pink cloud", pinkBand, PINK),
      dots("pink points", [...pinkOutliers, ...pinkTopEdge, ...pinkBottomEdge], PINK),
      curve("sigma u", blackCurve, "#000000"),
      curve("sigma v", blueCurve, "#0000ff"),
      curve("sigma w", redCurve, "#ff0000"),
      ...refLevels.map(hRef),
      vRef(wakeBounds[0], 2.7),
      vRef(wakeBounds[1], 2.7),
      vRef(0, 4.5),
      {
        type: "custom", name: "wakes", silent: true, data: wakesArrow, encode: { x: [0, 2], y: 1 },
        renderItem: (_p: any, api: any) => {
          const [lx, y] = api.coord([api.value(0), api.value(1)]);
          const [rx] = api.coord([api.value(2), api.value(1)]);
          const [tx, ty] = api.coord(wakesLabel);
          return {
            type: "group",
            children: [
              { type: "line", shape: { x1: lx + 40, y1: y, x2: rx - 40, y2: y }, style: { stroke: "#000", lineWidth: 3.5 } },
              { type: "polygon", shape: { points: [[lx, y], [lx + 58, y - 22], [lx + 40, y], [lx + 58, y + 22]] }, style: { fill: "#000" } },
              { type: "polygon", shape: { points: [[rx, y], [rx - 58, y - 22], [rx - 40, y], [rx - 58, y + 22]] }, style: { fill: "#000" } },
              { type: "text", x: tx, y: ty, style: { text: "Wakes", fill: "#000", font: `48px ${SERIF}`, align: "center", verticalAlign: "middle" } },
            ],
          };
        },
      },
    ],
    graphic,
  };
}

export default function App() {
  const ref = useRef<HTMLDivElement>(null);
  useEffect(() => {
    const chart = echarts.init(ref.current!, undefined, { renderer: "svg" });
    chart.setOption(buildOption() as any);
    return () => chart.dispose();
  }, []);
  return <div ref={ref} style={{ position: "absolute", left: 0, top: 0, width: 2067, height: 1672 }} />;
}
